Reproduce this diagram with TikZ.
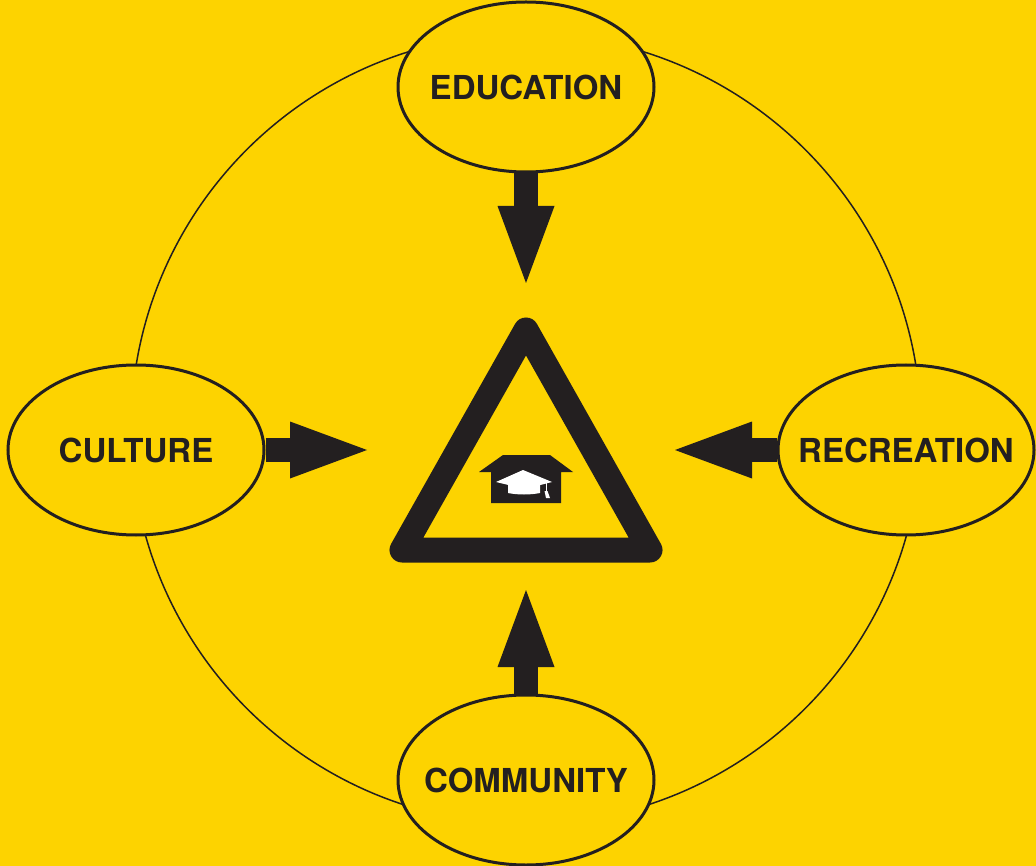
\documentclass[tikz,border=0pt]{standalone}
\usepackage{fontspec}
\setmainfont{TeX Gyre Heros}
\usetikzlibrary{shapes.geometric,arrows.meta}
\definecolor{bg}{HTML}{FDD300}
\definecolor{ink}{HTML}{231F20}

\begin{document}
\begin{tikzpicture}[x=1pt, y=-1pt,
  topic/.style = {draw=ink, line width=3pt, ellipse, fill=bg, minimum width=256pt, minimum height=170pt, inner xsep=-60pt, inner ysep=0pt, text=ink, font=\fontsize{33}{38}\selectfont\bfseries},
  push/.style = {draw=ink, line width=24pt, -{Triangle[width=57pt, length=77pt, line width=0pt]}}]
\fill[bg] (0,0) rectangle (1036,866);
\useasboundingbox (0,0) rectangle (1036,866);
\draw[ink, line width=1.5pt] (526,429) circle[radius=395pt];
\node[topic] (edu) at (526,87) {EDUCATION};
\node[topic] (cul) at (136,450) {CULTURE};
\node[topic] (rec) at (906,450) {RECREATION};
\node[topic] (com) at (526,780) {COMMUNITY};
\coordinate (n) at (526,283);
\coordinate (w) at (367,450);
\coordinate (e) at (675,450);
\coordinate (s) at (526,590);
\draw[push] (edu) -- (n);
\draw[push] (cul) -- (w);
\draw[push] (rec) -- (e);
\draw[push] (com) -- (s);
% sign in the middle
\draw[ink, line width=25pt, line join=round] (526,330) -- (402,550) -- (650,550) -- cycle;
\fill[ink] (479,472) -- (503,455) -- (550,455) -- (573,472) -- (561,472) -- (561,503) -- (491,503) -- (491,472) -- cycle;
\fill[white] (496,482) -- (523,470) -- (552,482) -- (525,489) -- cycle;
\fill[white] (508,484) -- (540,484) -- (540,493) .. controls (530,495) and (518,495) .. (508,493) -- cycle;
\draw[white, line width=1pt] (546,482) -- (546,492);
\fill[white] (544.5,491) -- (547.5,491) -- (550,498) -- (546,498) -- cycle;
\end{tikzpicture}
\end{document}
